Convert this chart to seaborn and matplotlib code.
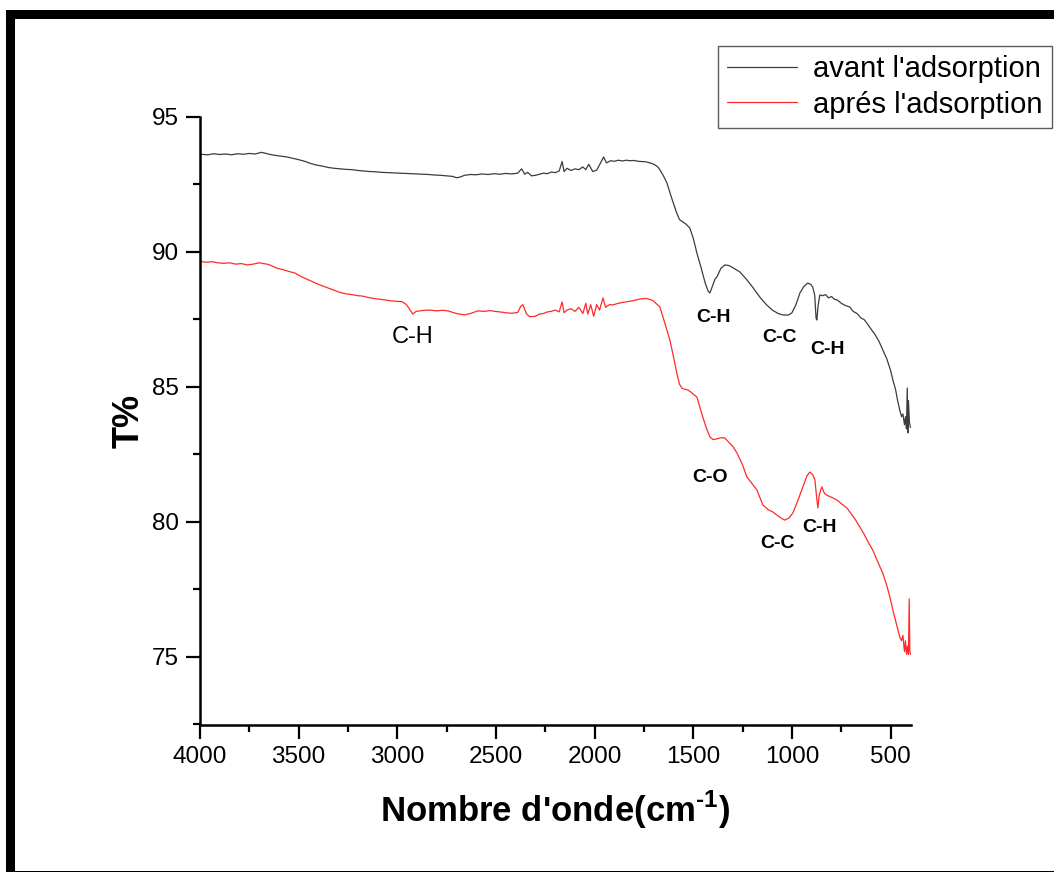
import numpy as np
import pandas as pd
import matplotlib
matplotlib.use("Agg")
import matplotlib.pyplot as plt
from matplotlib.ticker import MultipleLocator
from matplotlib.patches import Rectangle
from matplotlib.lines import Line2D
import seaborn as sns

# ---------------- data ----------------
avant_wn = [4000, 3960, 3930, 3900, 3870, 3840, 3810, 3780, 3750, 3720, 3690, 3670, 3650, 3620,
            3590, 3560, 3530, 3500, 3470, 3440, 3410, 3380, 3350, 3320, 3290, 3260, 3230, 3200,
            3170, 3140, 3110, 3080, 3050, 3020, 2990, 2960, 2930, 2900, 2870, 2840, 2810, 2780,
            2750, 2720, 2700, 2680, 2660, 2630, 2600, 2570, 2540, 2510, 2480, 2450, 2420, 2390,
            2370, 2355, 2340, 2320, 2300, 2280, 2260, 2240, 2220, 2200, 2180, 2165, 2155, 2140,
            2120, 2100, 2080, 2060, 2045, 2030, 2010, 1990, 1970, 1955, 1940, 1920, 1900, 1880,
            1860, 1840, 1820, 1800, 1780, 1760, 1740, 1720, 1700, 1680, 1670, 1650, 1634, 1610,
            1584, 1570, 1553, 1540, 1518, 1500, 1482, 1460, 1440, 1425, 1416, 1405, 1390, 1381,
            1360, 1340, 1320, 1300, 1264, 1230, 1200, 1163, 1130, 1100, 1070, 1047, 1020, 1001,
            980, 960, 940, 920, 905, 895, 885, 878, 874, 868, 859, 845, 830, 815, 800, 785, 770,
            750, 730, 707, 690, 670, 650, 635, 621, 600, 580, 560, 540, 520, 500, 489, 475, 465,
            454, 445, 438, 430, 425, 420, 416, 413, 410, 405, 400]
avant_T = [93.62, 93.60, 93.64, 93.61, 93.63, 93.60, 93.64, 93.62, 93.65, 93.63, 93.69, 93.66, 93.62, 93.58,
           93.55, 93.52, 93.47, 93.42, 93.36, 93.28, 93.22, 93.18, 93.13, 93.10, 93.08, 93.06, 93.05, 93.02,
           93.00, 92.98, 92.97, 92.95, 92.94, 92.93, 92.92, 92.91, 92.90, 92.89, 92.88, 92.87, 92.85, 92.84,
           92.82, 92.80, 92.75, 92.78, 92.84, 92.87, 92.86, 92.89, 92.87, 92.90, 92.88, 92.91, 92.89, 92.92,
           93.08, 92.88, 92.95, 92.82, 92.84, 92.88, 92.92, 92.90, 92.96, 92.94, 93.00, 93.35, 92.98, 93.10,
           93.02, 93.08, 93.05, 93.15, 93.05, 93.25, 92.98, 93.03, 93.30, 93.52, 93.30, 93.38, 93.36, 93.40,
           93.37, 93.40, 93.38, 93.39, 93.36, 93.35, 93.34, 93.30, 93.25, 93.15, 93.05, 92.80, 92.56, 92.00,
           91.44, 91.20, 91.11, 91.05, 90.89, 90.50, 89.96, 89.40, 88.85, 88.55, 88.48, 88.70, 89.00, 89.07,
           89.40, 89.52, 89.50, 89.42, 89.26, 88.98, 88.70, 88.33, 88.05, 87.85, 87.72, 87.67, 87.66, 87.74,
           88.05, 88.48, 88.72, 88.85, 88.80, 88.70, 88.40, 87.55, 87.48, 88.00, 88.41, 88.38, 88.42, 88.30,
           88.35, 88.25, 88.22, 88.10, 88.02, 87.96, 87.80, 87.72, 87.55, 87.50, 87.37, 87.15, 86.95, 86.70,
           86.37, 86.05, 85.60, 85.26, 84.90, 84.50, 84.15, 83.90, 84.00, 83.60, 83.90, 83.45, 84.96, 83.30,
           84.50, 83.70, 83.50]

apres_wn = [4000, 3970, 3940, 3910, 3880, 3850, 3820, 3790, 3760, 3730, 3700, 3686, 3660, 3640,
            3610, 3580, 3550, 3519, 3490, 3460, 3430, 3400, 3370, 3352, 3320, 3290, 3260, 3230,
            3200, 3179, 3150, 3120, 3090, 3060, 3030, 3000, 2977, 2955, 2940, 2921, 2905, 2875,
            2840, 2800, 2770, 2744, 2700, 2658, 2630, 2592, 2560, 2530, 2506, 2480, 2450, 2420,
            2390, 2375, 2364, 2345, 2328, 2300, 2280, 2260, 2240, 2220, 2200, 2180, 2165, 2155,
            2140, 2120, 2100, 2080, 2060, 2045, 2035, 2020, 2005, 1990, 1975, 1958, 1945, 1925,
            1908, 1880, 1850, 1820, 1790, 1771, 1740, 1720, 1705, 1690, 1670, 1650, 1634, 1619,
            1600, 1584, 1570, 1558, 1545, 1528, 1510, 1495, 1482, 1465, 1452, 1435, 1416, 1400,
            1380, 1360, 1340, 1320, 1300, 1279, 1250, 1229, 1200, 1178, 1148, 1120, 1097, 1070,
            1050, 1036, 1015, 996, 970, 945, 925, 910, 895, 884, 875, 869, 862, 849, 835, 820,
            793, 770, 745, 722, 700, 680, 656, 635, 610, 591, 570, 555, 540, 520, 505, 489, 470,
            454, 445, 438, 430, 425, 420, 415, 410, 406, 403, 400]
apres_T = [89.65, 89.62, 89.64, 89.60, 89.58, 89.60, 89.55, 89.57, 89.52, 89.55, 89.60, 89.58, 89.55, 89.50,
           89.40, 89.35, 89.28, 89.22, 89.10, 89.00, 88.90, 88.80, 88.72, 88.67, 88.58, 88.50, 88.45, 88.42,
           88.38, 88.37, 88.32, 88.28, 88.25, 88.22, 88.19, 88.17, 88.16, 88.06, 87.90, 87.70, 87.80, 87.83,
           87.85, 87.82, 87.84, 87.82, 87.72, 87.67, 87.72, 87.82, 87.80, 87.83, 87.80, 87.78, 87.75, 87.73,
           87.76, 87.98, 88.05, 87.70, 87.60, 87.62, 87.70, 87.72, 87.78, 87.80, 87.85, 87.78, 88.15, 87.75,
           87.85, 87.90, 87.80, 87.95, 87.72, 88.10, 87.70, 88.05, 87.62, 88.05, 87.85, 88.30, 87.95, 88.05,
           88.04, 88.10, 88.14, 88.18, 88.22, 88.26, 88.28, 88.24, 88.20, 88.10, 87.97, 87.50, 87.11, 86.74,
           86.10, 85.52, 85.10, 84.96, 84.92, 84.89, 84.80, 84.70, 84.63, 84.20, 83.89, 83.50, 83.15, 83.05,
           83.08, 83.12, 83.11, 82.95, 82.80, 82.56, 82.10, 81.67, 81.40, 81.19, 80.63, 80.45, 80.37, 80.22,
           80.12, 80.07, 80.15, 80.33, 80.80, 81.30, 81.70, 81.85, 81.75, 81.56, 80.90, 80.52, 81.00, 81.30,
           81.05, 80.98, 80.89, 80.80, 80.65, 80.52, 80.30, 80.10, 79.81, 79.55, 79.20, 78.96, 78.60, 78.35,
           78.11, 77.65, 77.25, 76.74, 76.20, 75.74, 75.60, 75.80, 75.20, 75.60, 75.10, 75.40, 75.10, 77.15,
           75.20, 75.10]

series_names = ["avant l'adsorption", "aprés l'adsorption"]
series_colors = ["#3c3c3c", "#ff2a2a"]

annot_text = ["C-H", "C-H", "C-C", "C-H", "C-O", "C-C", "C-H"]
annot_wn = [2921, 1396, 1062, 818, 1416, 1072, 859]
annot_T = [86.85, 87.59, 86.85, 86.37, 81.63, 79.22, 79.78]
annot_bold = [False, True, True, True, True, True, True]

# ---------------- figure ----------------
sns.set_style("ticks")
plt.rcParams['font.family'] = ['Liberation Sans', 'DejaVu Sans']
plt.rcParams['mathtext.fontset'] = 'custom'
plt.rcParams['mathtext.rm'] = 'Liberation Sans:bold'
plt.rcParams['mathtext.bf'] = 'Liberation Sans:bold'
for k in ['text.color', 'axes.labelcolor', 'xtick.color', 'ytick.color', 'axes.edgecolor']:
    plt.rcParams[k] = 'black'

df = pd.concat([
    pd.DataFrame({"wn": avant_wn, "T": avant_T, "serie": series_names[0]}),
    pd.DataFrame({"wn": apres_wn, "T": apres_T, "serie": series_names[1]}),
], ignore_index=True)

W, H = 1054, 872
fig = plt.figure(figsize=(W / 100, H / 100), dpi=100)
ax = fig.add_axes([200 / W, 1 - 725 / H, (911 - 200) / W, (725 - 117) / H])

sns.lineplot(data=df, x="wn", y="T", hue="serie", palette=dict(zip(series_names, series_colors)),
             estimator=None, sort=False, linewidth=0.9, ax=ax, legend=False)

ax.set_xlim(4000, 397)
ax.set_ylim(72.48, 95)
ax.xaxis.set_major_locator(MultipleLocator(500))
ax.xaxis.set_minor_locator(MultipleLocator(250))
ax.set_yticks([75, 80, 85, 90, 95])
ax.yaxis.set_minor_locator(MultipleLocator(2.5))
ax.tick_params(which='major', direction='out', length=10, width=1.6, labelsize=17.5, pad=5,
               color='black', labelcolor='black')
ax.tick_params(which='minor', direction='out', length=5, width=1.6, color='black')
for s in ['top', 'right']:
    ax.spines[s].set_visible(False)
for s in ['left', 'bottom']:
    ax.spines[s].set_linewidth(1.8)
    ax.spines[s].set_color('black')

ax.set_xlabel(r"Nombre d'onde(cm$^{\text{-}1}$)", fontsize=25, fontweight='bold', labelpad=15,
              color='black')
ax.set_ylabel("T%", fontsize=26, fontweight='bold', labelpad=4, color='black')

for t, x, y, b in zip(annot_text, annot_wn, annot_T, annot_bold):
    ax.text(x, y, t, fontsize=14 if b else 17, fontweight='bold' if b else 'normal',
            ha='center', va='center', color='black')

handles = [Line2D([], [], color=c, lw=0.9) for c in series_colors]
leg = fig.legend(handles, series_names, loc='upper right', bbox_to_anchor=(1052 / W, 1 - 46 / H),
                 fontsize=21, frameon=True, fancybox=False, borderaxespad=0, borderpad=0.32,
                 handlelength=2.4, handletextpad=0.55, labelspacing=0.25)
leg.get_frame().set_edgecolor('#333333')
leg.get_frame().set_linewidth(1.0)
for txt in leg.get_texts():
    txt.set_color('black')

# outer frame
fig.add_artist(Rectangle((6 / W, 0), 9 / W, 1 - 10 / H, transform=fig.transFigure,
                         facecolor='black', edgecolor='none'))
fig.add_artist(Rectangle((6 / W, 1 - 19 / H), 1 - 6 / W, 9 / H, transform=fig.transFigure,
                         facecolor='black', edgecolor='none'))
fig.add_artist(Rectangle((6 / W, 0), 1 - 6 / W, 1.5 / H, transform=fig.transFigure,
                         facecolor='black', edgecolor='none'))

fig.savefig("out.png", dpi=100, facecolor='white')
